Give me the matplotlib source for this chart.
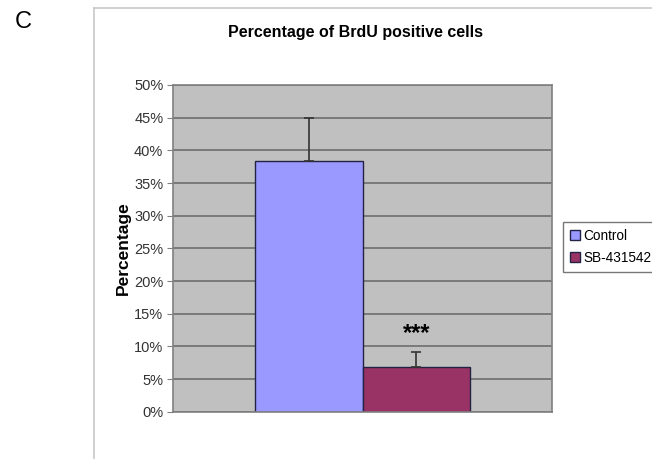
import matplotlib.pyplot as plt
from matplotlib.ticker import PercentFormatter

# data
labels = ["Control", "SB-431542"]
values = [38.4, 6.8]
errors = [6.6, 2.3]
colors = ["#9999FF", "#993366"]
offsets = [-0.142, 0.142]
yticks = list(range(0, 55, 5))

W, H = 652, 459
fig = plt.figure(figsize=(W / 100, H / 100), dpi=100)
plt.rcParams['font.family'] = ['Liberation Sans', 'DejaVu Sans']

# outer chart frame (left and top edges only visible)
fig.add_artist(plt.Line2D([94 / W, 94 / W], [0, 1 - 8 / H], transform=fig.transFigure,
                          color="#c8c8c8", lw=1.2))
fig.add_artist(plt.Line2D([94 / W, 1], [1 - 8 / H, 1 - 8 / H], transform=fig.transFigure,
                          color="#c8c8c8", lw=1.2))

ax = fig.add_axes([173 / W, 1 - 411.7 / H, (552 - 173) / W, (411.7 - 85) / H])
ax.set_facecolor("#C0C0C0")
ax.set_xlim(-0.5, 0.5)
ax.set_ylim(0, 50)
ax.set_yticks(yticks)
ax.yaxis.set_major_formatter(PercentFormatter(decimals=0))
ax.set_xticks([])
ax.grid(axis="y", color="#6e6e6e", lw=1.2)
ax.set_axisbelow(True)
for s in ax.spines.values():
    s.set_color("#808080")
    s.set_linewidth(1.2)
ax.tick_params(axis="y", length=4, color="#808080", labelsize=10.5, labelcolor="#333333", pad=3)

for x, v, e, c, lab in zip(offsets, values, errors, colors, labels):
    ax.bar(x, v, width=0.284, color=c, edgecolor="#222244", lw=1, label=lab, zorder=2)
    ax.errorbar(x, v, yerr=[[0], [e]], color="#333333", lw=1.2, capsize=3.5, capthick=1.2, zorder=3)

ax.text(offsets[1], 11.9, "***", ha="center", va="center", fontsize=17, fontweight="bold")

ax.set_ylabel("Percentage", fontsize=12.5, fontweight="bold", labelpad=2)
fig.text(356 / W, 1 - 33 / H, "Percentage of BrdU positive cells", ha="center", va="center",
         fontsize=11.5, fontweight="bold")
fig.text(23 / W, 1 - 22 / H, "C", ha="center", va="center", fontsize=17)

leg = ax.legend(loc="upper left", bbox_to_anchor=(563 / W, 1 - 222 / H), bbox_transform=fig.transFigure,
                frameon=True, fancybox=False, fontsize=9.8, handlelength=0.75, handleheight=0.75,
                handletextpad=0.25, borderpad=0.5, labelspacing=0.6, borderaxespad=0)
leg.get_frame().set_edgecolor("#555555")
leg.get_frame().set_linewidth(1)

fig.savefig("out.png", dpi=100)
